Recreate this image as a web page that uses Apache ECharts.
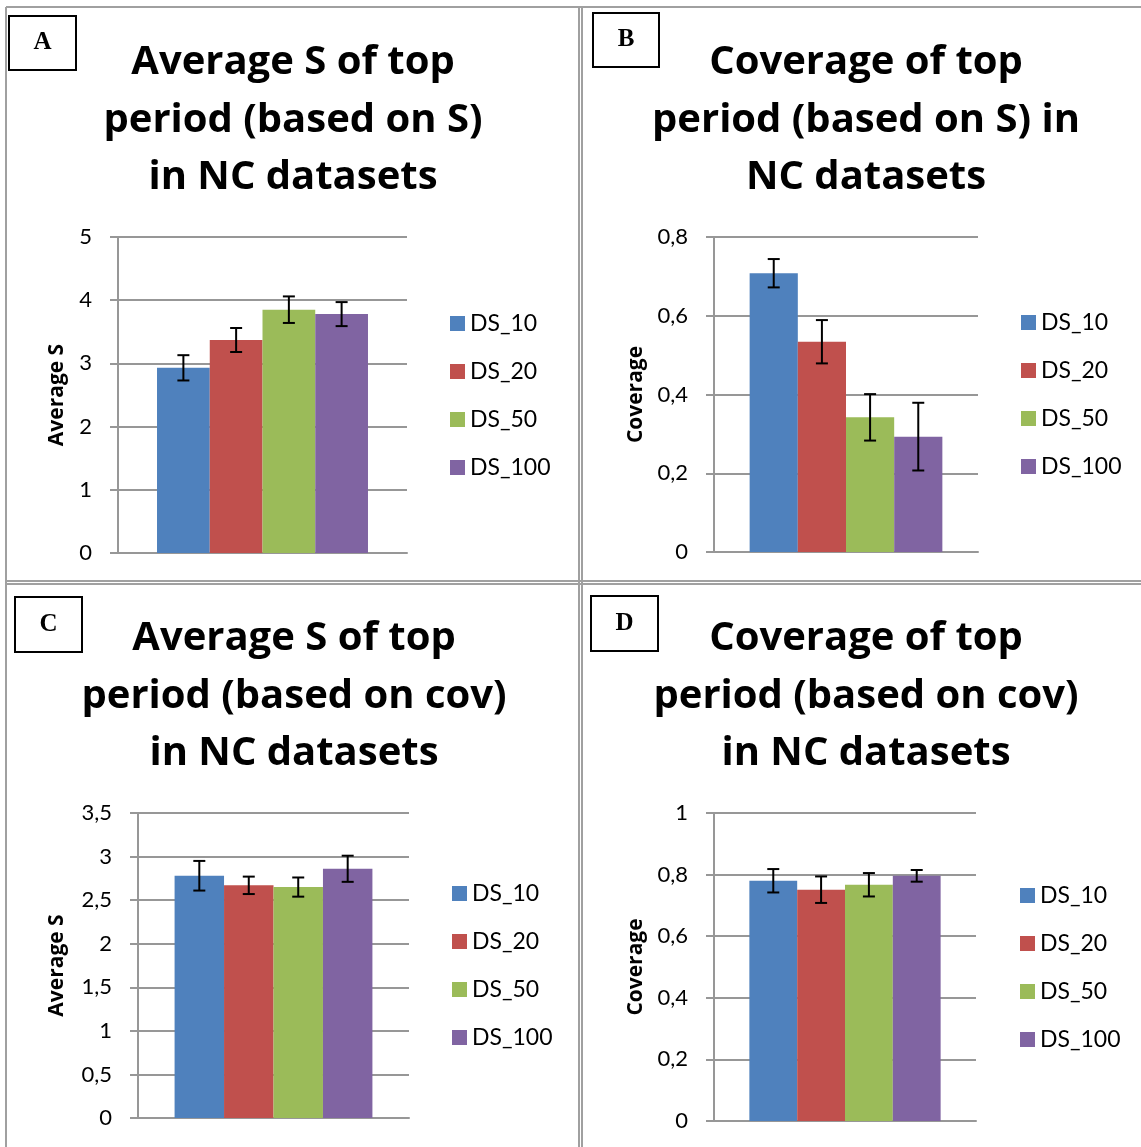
<!DOCTYPE html>
<html>
<head>
<meta charset="utf-8">
<script src="https://cdn.jsdelivr.net/npm/echarts@6/dist/echarts.min.js"></script>
<style>
html, body { margin: 0; padding: 0; background: #fff; }
#chart { width: 1141px; height: 1147px; }
</style>
</head>
<body>
<div id="chart"></div>
<script>
// data
const seriesNames = ['DS_10', 'DS_20', 'DS_50', 'DS_100'];
const categories = [''];

// A: average S of top period (based on S)
const avgS_byS = [2.93, 3.37, 3.85, 3.78];
const avgS_byS_err = [0.20, 0.19, 0.21, 0.19];
// B: coverage of top period (based on S)
const cov_byS = [0.708, 0.534, 0.342, 0.293];
const cov_byS_err = [0.036, 0.055, 0.059, 0.086];
// C: average S of top period (based on cov)
const avgS_byCov = [2.78, 2.67, 2.65, 2.86];
const avgS_byCov_err = [0.17, 0.10, 0.11, 0.15];
// D: coverage of top period (based on cov)
const cov_byCov = [0.780, 0.751, 0.767, 0.796];
const cov_byCov_err = [0.038, 0.043, 0.038, 0.019];

const panelTitles = [
  'Average S of top\nperiod (based on S)\nin NC datasets',
  'Coverage of top\nperiod (based on S) in\nNC datasets',
  'Average S of top\nperiod (based on cov)\nin NC datasets',
  'Coverage of top\nperiod (based on cov)\nin NC datasets'
];
const panelLetters = ['A', 'B', 'C', 'D'];
const axisNames = ['Average S', 'Coverage', 'Average S', 'Coverage'];
const yTicksA = [0, 1, 2, 3, 4, 5];
const yTicksB = [0, 0.2, 0.4, 0.6, 0.8];
const yTicksC = [0, 0.5, 1, 1.5, 2, 2.5, 3, 3.5];
const yTicksD = [0, 0.2, 0.4, 0.6, 0.8, 1];

const values = [avgS_byS, cov_byS, avgS_byCov, cov_byCov];
const errors = [avgS_byS_err, cov_byS_err, avgS_byCov_err, cov_byCov_err];
const ticks = [yTicksA, yTicksB, yTicksC, yTicksD];

// layout of the four panels (page pixels)
const panels = [
  { grid: { left: 118, top: 237, width: 289, height: 316 }, nameGap: 50, titleX: 293, titleY: 34, legend: [450, 312], box: [9, 16, 67, 54] },
  { grid: { left: 714, top: 237, width: 264, height: 315 }, nameGap: 67, titleX: 866, titleY: 34, legend: [1021, 311], box: [593, 13, 66, 54] },
  { grid: { left: 138, top: 813, width: 271, height: 305 }, nameGap: 70, titleX: 294, titleY: 610, legend: [452, 882], box: [15, 597, 67, 55] },
  { grid: { left: 714, top: 813, width: 262, height: 308 }, nameGap: 67, titleX: 866, titleY: 610, legend: [1020, 884], box: [591, 596, 67, 55] }
];

const colors = ['#4f81bd', '#c0504d', '#9bbb59', '#8064a2'];
const font = 'Lato, "Open Sans", sans-serif';
const titleFont = '"Open Sans", Lato, sans-serif';
const gridGray = '#979797';

function errRender(params, api) {
  const i = api.value(3);
  const mean = api.value(1);
  const err = api.value(2);
  const c = api.coord([0, mean]);
  const bw = api.size([1, 0])[0] * 0.73 / 4;
  const x = c[0] + (i - 1.5) * bw;
  const yTop = api.coord([0, mean + err])[1];
  const yBot = api.coord([0, mean - err])[1];
  const style = { stroke: '#000', lineWidth: 2 };
  return {
    type: 'group',
    children: [
      { type: 'line', shape: { x1: x, y1: yTop, x2: x, y2: yBot }, style: style },
      { type: 'line', shape: { x1: x - 6, y1: yTop, x2: x + 6, y2: yTop }, style: style },
      { type: 'line', shape: { x1: x - 6, y1: yBot, x2: x + 6, y2: yBot }, style: style }
    ]
  };
}

let grids = [], xAxes = [], yAxes = [], legends = [], series = [], graphics = [];

panels.forEach(function (p, k) {
  grids.push(p.grid);
  xAxes.push({
    type: 'category', gridIndex: k, data: categories,
    axisLine: { lineStyle: { color: gridGray, width: 2 } },
    axisTick: { show: false }, axisLabel: { show: false }
  });
  let t = ticks[k];
  yAxes.push({
    type: 'value', gridIndex: k,
    min: t[0], max: t[t.length - 1], interval: t[1] - t[0],
    name: axisNames[k], nameLocation: 'middle', nameRotate: 90, nameGap: p.nameGap,
    nameTextStyle: { fontFamily: titleFont, fontWeight: 'bold', fontSize: 21, color: '#000' },
    axisLine: { show: true, lineStyle: { color: gridGray, width: 2 } },
    axisTick: { show: true, length: 8, lineStyle: { color: gridGray, width: 2 } },
    axisLabel: {
      margin: 26, fontFamily: font, fontSize: 22, color: '#000',
      formatter: function (v) { return String(Math.round(v * 10) / 10).replace('.', ','); }
    },
    splitLine: { lineStyle: { color: gridGray, width: 2 } }
  });
  legends.push({
    data: seriesNames, orient: 'vertical', left: p.legend[0], top: p.legend[1], padding: 0,
    icon: 'rect', itemWidth: 15, itemHeight: 15, itemGap: 25,
    textStyle: { fontFamily: font, fontSize: 23, color: '#000' }
  });
  seriesNames.forEach(function (name, i) {
    series.push({
      name: name, type: 'bar', xAxisIndex: k, yAxisIndex: k,
      data: [values[k][i]], barGap: 0, barCategoryGap: '27%',
      itemStyle: { color: colors[i] }
    });
  });
  series.push({
    name: 'err' + k, type: 'custom', xAxisIndex: k, yAxisIndex: k, z: 5,
    renderItem: errRender,
    encode: { x: 0, y: 1 },
    data: values[k].map(function (v, i) { return [0, v, errors[k][i], i]; })
  });
  graphics.push({
    type: 'text', x: p.titleX, y: p.titleY,
    style: {
      text: panelTitles[k], align: 'center', verticalAlign: 'top',
      fontFamily: titleFont, fontWeight: 'bold', fontSize: 40, lineHeight: 57.5, fill: '#000'
    }
  });
  graphics.push({
    type: 'rect', shape: { x: p.box[0], y: p.box[1], width: p.box[2], height: p.box[3] },
    style: { fill: '#fff', stroke: '#000', lineWidth: 2 }
  });
  graphics.push({
    type: 'text', x: p.box[0] + p.box[2] / 2, y: p.box[1] + p.box[3] / 2,
    style: {
      text: panelLetters[k], align: 'center', verticalAlign: 'middle',
      fontFamily: '"Liberation Serif", "DejaVu Serif", serif', fontWeight: 'bold', fontSize: 25, fill: '#000'
    }
  });
});

// panel frames
const frameStyle = { stroke: '#a0a0a0', lineWidth: 2 };
graphics.push({ type: 'line', shape: { x1: 6, y1: 7, x2: 1141, y2: 7 }, style: frameStyle });
graphics.push({ type: 'line', shape: { x1: 6, y1: 7, x2: 6, y2: 1147 }, style: frameStyle });
graphics.push({ type: 'line', shape: { x1: 579, y1: 7, x2: 579, y2: 1147 }, style: frameStyle });
graphics.push({ type: 'line', shape: { x1: 582, y1: 7, x2: 582, y2: 1147 }, style: frameStyle });
graphics.push({ type: 'line', shape: { x1: 6, y1: 581, x2: 1141, y2: 581 }, style: frameStyle });
graphics.push({ type: 'line', shape: { x1: 6, y1: 584, x2: 1141, y2: 584 }, style: frameStyle });

const myChart = echarts.init(document.getElementById('chart'));
myChart.setOption({
  animation: false,
  grid: grids,
  xAxis: xAxes,
  yAxis: yAxes,
  legend: legends,
  series: series,
  graphic: graphics
});
</script>
</body>
</html>
